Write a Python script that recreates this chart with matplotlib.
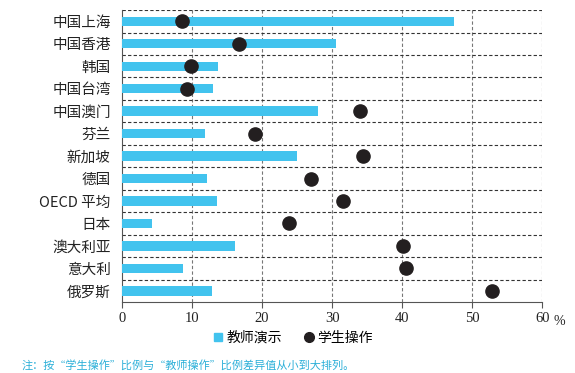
import matplotlib
matplotlib.use("Agg")
import matplotlib.pyplot as plt
from matplotlib.lines import Line2D
import numpy as np

plt.rcParams['font.family'] = ['Noto Sans CJK SC', 'DejaVu Sans']

regions = ["中国上海", "中国香港", "韩国", "中国台湾", "中国澳门", "芬兰", "新加坡",
           "德国", "OECD 平均", "日本", "澳大利亚", "意大利", "俄罗斯"]
teacher = [47.4, 30.6, 13.7, 13.0, 28.0, 11.9, 25.0, 12.1, 13.6, 4.3, 16.1, 8.7, 12.9]
student = [8.6, 16.7, 9.9, 9.3, 34.0, 19.0, 34.4, 27.0, 31.6, 23.9, 40.1, 40.6, 52.8]
xticks = [0, 10, 20, 30, 40, 50, 60]

bar_color = "#42C3EE"
dot_color = "#231F20"

fig = plt.figure(figsize=(5.75, 3.73), dpi=100)
ax = fig.add_axes([0.212, 0.19, 0.731, 0.783])

y = np.arange(len(regions))
ax.barh(y, teacher, height=0.42, color=bar_color, zorder=3)
ax.plot(student, y, "o", color=dot_color, markersize=9.5, zorder=4, linestyle="none")

ax.set_xlim(0, 60)
ax.set_ylim(len(regions) - 0.5, -0.5)

# dashed grid: grey verticals, dark row separators
for v in xticks[1:]:
    ax.axvline(v, color="#777777", linestyle=(0, (3, 2)), linewidth=0.8, zorder=1)
for b in np.arange(-0.5, len(regions) - 0.5):
    ax.axhline(b, color="#333333", linestyle=(0, (3, 2)), linewidth=0.8, zorder=1)

for s in ["top", "right"]:
    ax.spines[s].set_visible(False)
ax.spines["left"].set_color("#555555")
ax.spines["bottom"].set_color("#555555")

ax.set_yticks(y)
ax.set_yticklabels(regions, fontsize=10.5, color="#222222")
ax.tick_params(axis="y", length=0, pad=8)
ax.set_xticks(xticks)
ax.set_xticklabels([str(v) for v in xticks], fontsize=10.5, family="Liberation Serif",
                   color="#222222")
ax.tick_params(axis="x", length=4, color="#555555", pad=3)

fig.text(0.963, 0.137, "%", fontsize=10, family="Liberation Serif", color="#222222",
         va="center", ha="left")

handles = [
    Line2D([], [], marker="s", color=bar_color, linestyle="none", markersize=6),
    Line2D([], [], marker="o", color=dot_color, linestyle="none", markersize=7),
]
fig.legend(handles, ["教师演示", "学生操作"], loc="center", bbox_to_anchor=(0.51, 0.094),
           ncol=2, frameon=False, fontsize=10, handlelength=0.6, handletextpad=0.3,
           columnspacing=1.6)

fig.text(0.038, 0.021, "注：按“学生操作”比例与“教师操作”比例差异值从小到大排列。",
         fontsize=8, color="#2BAFD8", ha="left", va="center")

fig.savefig("out.png", dpi=100)
